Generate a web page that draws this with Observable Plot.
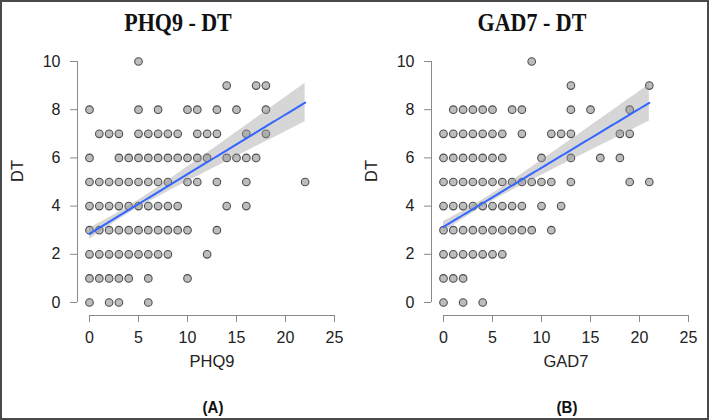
<!DOCTYPE html>
<html>
<head>
<meta charset="utf-8">
<script src="https://cdn.jsdelivr.net/npm/d3@7"></script>
<script src="https://cdn.jsdelivr.net/npm/@observablehq/plot@0.6"></script>
<style>
  html, body { margin: 0; padding: 0; background: #fff; }
  #wrap { position: relative; width: 709px; height: 420px; overflow: hidden; background: #fff;
          font-family: "Liberation Sans", Arial, sans-serif; }
  #frame { position: absolute; left: 0; top: 0; width: 709px; height: 420px; box-sizing: border-box;
           border: 2px solid #4a4a4a; pointer-events: none; }
  .panel { position: absolute; top: 0; width: 354px; height: 420px; }
  .title { position: absolute; top: 10px; left: 68px; width: 220px; text-align: center;
           font: bold 22px/26px "Liberation Serif", "Times New Roman", serif; color: #111;
           transform: scaleY(1.1); }
  .cap { position: absolute; top: 399px; left: 163px; width: 100px; text-align: center;
         font: bold 15px/18px "Liberation Sans", Arial, sans-serif; color: #111; transform: scaleY(1.08); }
  .plot { position: absolute; top: 40px; left: 0; }
</style>
</head>
<body>
<div id="wrap">
  <div class="panel" id="pA"><div class="title">PHQ9 - DT</div><div class="plot"></div><div class="cap">(A)</div></div>
  <div class="panel" id="pB" style="left:354px"><div class="title">GAD7 - DT</div><div class="plot"></div><div class="cap">(B)</div></div>
  <div id="frame"></div>
</div>
<script>
// DT levels (y) and, for each level, the distinct scores observed (x)
const dtLevels = [10, 9, 8, 7, 6, 5, 4, 3, 2, 1, 0];
const phq9Rows = [
  [5],
  [14, 17, 18],
  [0, 5, 7, 10, 11, 13, 15, 18],
  [1, 2, 3, 5, 6, 7, 8, 9, 11, 12, 13, 16, 18],
  [0, 3, 4, 5, 6, 7, 8, 9, 10, 11, 12, 14, 15, 16, 17],
  [0, 1, 2, 3, 4, 5, 6, 7, 8, 10, 11, 13, 16, 22],
  [0, 1, 2, 3, 4, 5, 6, 7, 8, 9, 14, 16],
  [0, 1, 2, 3, 4, 5, 6, 7, 8, 9, 10, 13],
  [0, 1, 2, 3, 4, 5, 6, 7, 8, 12],
  [0, 1, 2, 3, 4, 6, 10],
  [0, 2, 3, 6]
];
const gad7Rows = [
  [9],
  [13, 21],
  [1, 2, 3, 4, 5, 7, 8, 13, 15, 19],
  [0, 1, 2, 3, 4, 5, 6, 8, 11, 12, 13, 18, 19],
  [0, 1, 2, 3, 4, 5, 6, 10, 13, 16, 18],
  [0, 1, 2, 3, 4, 5, 6, 7, 8, 9, 10, 11, 13, 19, 21],
  [0, 1, 2, 3, 4, 5, 6, 7, 8, 10, 12],
  [0, 1, 2, 3, 4, 5, 6, 7, 8, 9, 11],
  [0, 1, 2, 3, 4, 5, 6],
  [0, 1, 2],
  [0, 2, 4]
];
// Linear fit (intercept, slope) and 95% CI parameters: halfwidth^2 = c + d*(x - xMean)^2
const phq9Fit = [2.85, 0.2475];
const phq9Ci = [0.0224, 0.001906, 4.0];
const gad7Fit = [3.14, 0.245];
const gad7Ci = [0.0212, 0.00188, 3.8];
const xTicks = [0, 5, 10, 15, 20, 25];
const yTicks = [0, 2, 4, 6, 8, 10];

function makePanel(rows, xLabel, fit, ci) {
  const pts = [];
  dtLevels.forEach((dt, i) => rows[i].forEach(x => pts.push({x, dt})));
  const xmax = d3.max(pts, d => d.x);
  const grid = d3.range(0, xmax + 1e-9, 0.25);
  const band = grid.map(x => {
    const f = fit[0] + fit[1] * x;
    const h = Math.sqrt(ci[0] + ci[1] * (x - ci[2]) ** 2);
    return {x, f, lo: f - h, hi: f + h};
  });
  const axisColor = "#8a8a8a";
  return Plot.plot({
    width: 354, height: 340,
    marginTop: 21, marginBottom: 78, marginLeft: 89, marginRight: 20,
    x: {domain: [0, 25]},
    y: {domain: [0, 10]},
    style: {fontFamily: "'Liberation Sans', Arial, sans-serif", fontSize: "16px", color: "#222", background: "transparent"},
    marks: [
      Plot.ruleX([0], {y1: 0, y2: 10, dx: -12, stroke: axisColor}),
      Plot.ruleY([0], {x1: 0, x2: 25, dy: 13, stroke: axisColor}),
      Plot.axisY({ticks: yTicks, dx: -12, tickSize: 7, tickPadding: 10, stroke: axisColor, fill: "#222", label: null, fontSize: 16}),
      Plot.axisX({ticks: xTicks, dy: 13, tickSize: 7, tickPadding: 9, stroke: axisColor, fill: "#222", label: null, fontSize: 16}),
      Plot.dot(pts, {x: "x", y: "dt", r: 3.8, fill: "#bdbdbd", stroke: "#4d4d4d", strokeWidth: 1.1}),
      Plot.areaY(band, {x: "x", y1: "lo", y2: "hi", fill: "#999", fillOpacity: 0.4}),
      Plot.lineY(band, {x: "x", y: "f", stroke: "#3366ff", strokeWidth: 2}),
      Plot.text([xLabel], {text: d => d, frameAnchor: "bottom", dy: 64, fontSize: 16.5, fill: "#222"}),
      Plot.text(["DT"], {text: d => d, frameAnchor: "left", dx: -72, rotate: -90, fontSize: 16.5, fill: "#222"})
    ]
  });
}

document.querySelector("#pA .plot").appendChild(makePanel(phq9Rows, "PHQ9", phq9Fit, phq9Ci));
document.querySelector("#pB .plot").appendChild(makePanel(gad7Rows, "GAD7", gad7Fit, gad7Ci));
</script>
</body>
</html>
